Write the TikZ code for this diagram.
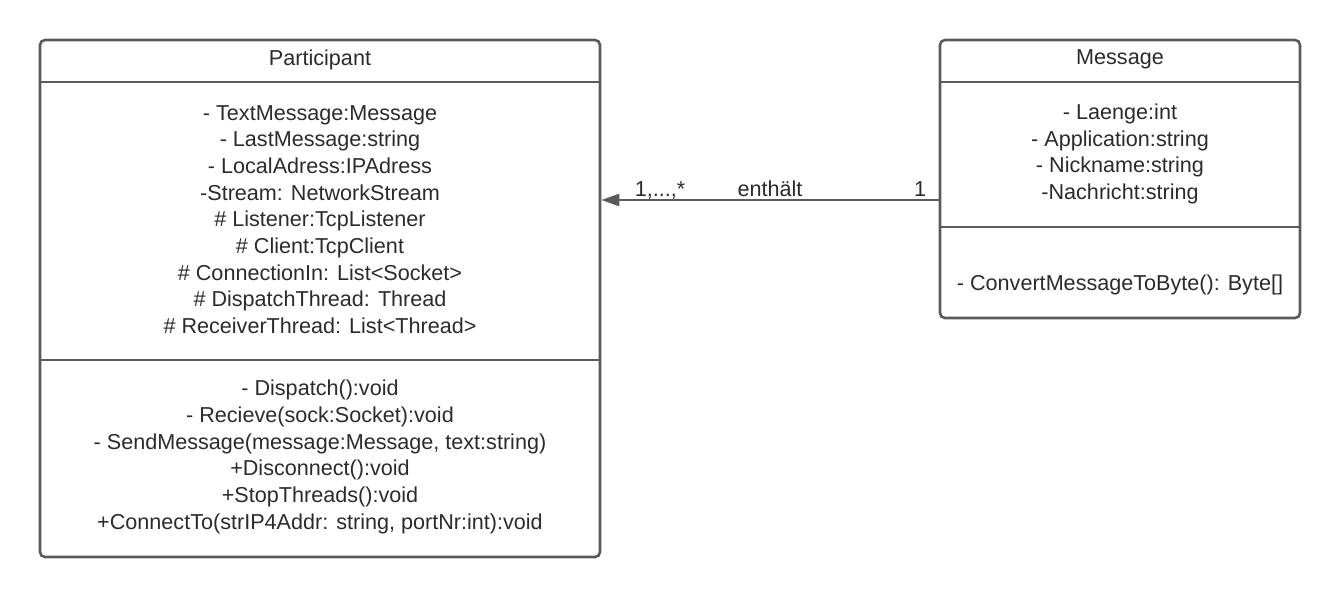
\documentclass[tikz,border=0pt]{standalone}
\usepackage{fontspec}
\setmainfont{Liberation Sans}
\usetikzlibrary{arrows.meta}
\definecolor{linec}{HTML}{5A5A5A}
\definecolor{textc}{HTML}{2B2B2B}
\tikzset{
  classbox/.style={draw=linec, line width=2.6pt, rounded corners=5pt, rectangle, inner sep=0pt},
  divider/.style={draw=linec, line width=2.6pt},
  txt/.style={text=textc, font=\fontsize{21.6}{26.7}\selectfont, align=center, inner sep=0pt},
  assoc/.style={draw=linec, line width=2.6pt, -{Triangle[length=18pt,width=12pt]}},
}
\begin{document}
\begin{tikzpicture}[x=1pt,y=-1pt]
\useasboundingbox (0,0) rectangle (1340,598);
% boxes
\node[classbox, minimum width=560pt, minimum height=517pt] (P) at (320,298.5) {};
\node[classbox, minimum width=360pt, minimum height=278pt] (M) at (1120,179) {};
% dividers
\coordinate (P1) at (40,82);
\coordinate (P2) at (40,360);
\draw[divider] (P1) -- (P1 -| P.east);
\draw[divider] (P2) -- (P2 -| P.east);
\coordinate (M1) at (940,82);
\coordinate (M2) at (940,227);
\draw[divider] (M1) -- (M1 -| M.east);
\draw[divider] (M2) -- (M2 -| M.east);
% texts
\node[txt] (Pt) at (320,59.5) {Participant};
\node[txt] (Pa) at (320,219.5) {- TextMessage:Message\\- LastMessage:string\\- LocalAdress:IPAdress\\-Stream: NetworkStream\\\# Listener:TcpListener\\\# Client:TcpClient\\\# ConnectionIn: List<Socket>\\\# DispatchThread: Thread\\\# ReceiverThread: List<Thread>};
\node[txt] (Pm) at (320,457) {- Dispatch():void\\- Recieve(sock:Socket):void\\- SendMessage(message:Message, text:string)\\+Disconnect():void\\+StopThreads():void\\+ConnectTo(strIP4Addr: string, portNr:int):void};
\node[txt] (Mt) at (1120,59.5) {Message};
\node[txt] (Ma) at (1120,154) {- Laenge:int\\- Application:string\\- Nickname:string\\-Nachricht:string};
\node[txt] (Mm) at (1120,285) {- ConvertMessageToByte(): Byte[]};
% association
\coordinate (A) at (940,200);
\draw[assoc] (A) -- (A -| P.east);
\node[txt, anchor=base] (l1) at (660,196) {1,...,*};
\node[txt, anchor=base] (l2) at (770,196) {enthält};
\node[txt, anchor=base] (l3) at (920,196) {1};
\end{tikzpicture}
\end{document}
